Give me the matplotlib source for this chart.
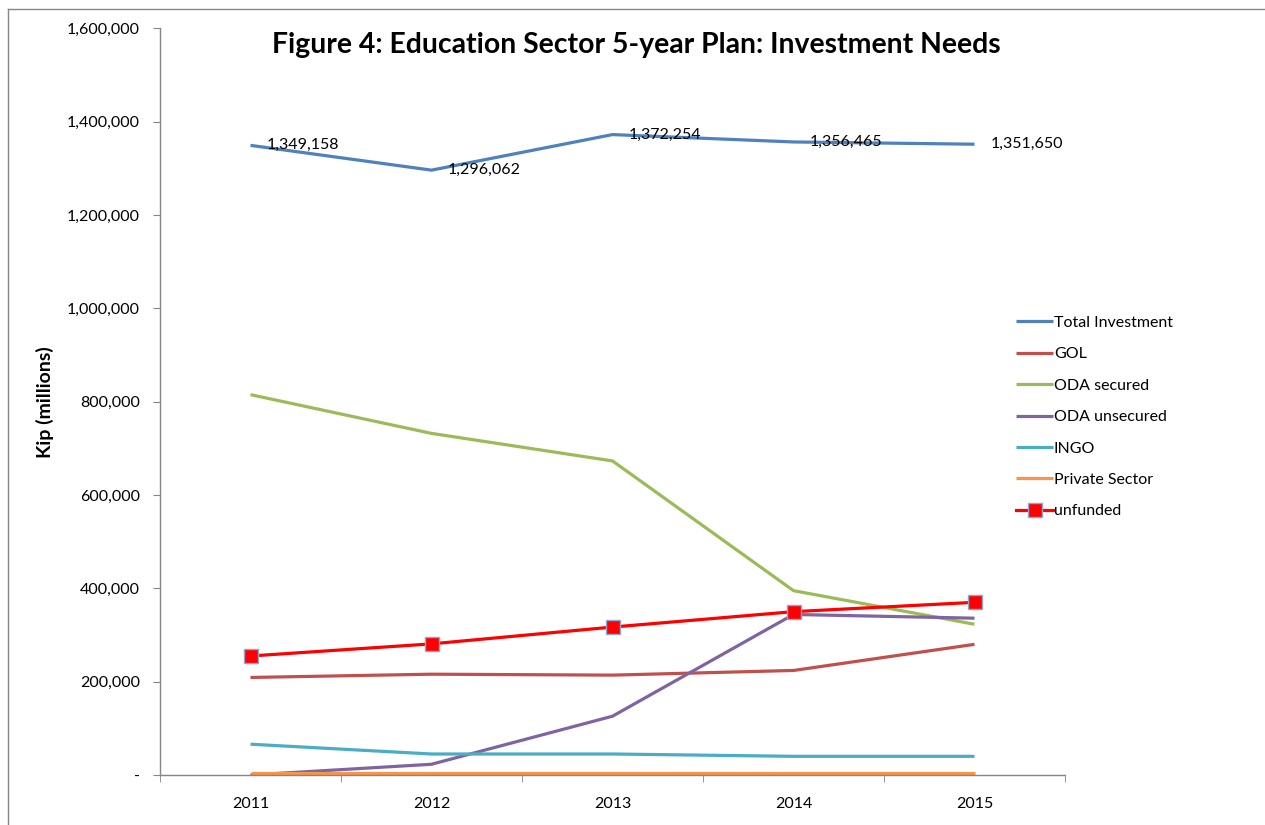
import matplotlib.pyplot as plt
from matplotlib.lines import Line2D
from matplotlib.ticker import FuncFormatter

plt.rcParams['font.family'] = ['Lato', 'DejaVu Sans']

# Investment needs, Kip (millions)
years = ['2011', '2012', '2013', '2014', '2015']
total_investment = [1349158, 1296062, 1372254, 1356465, 1351650]
gol = [209000, 216000, 214000, 224000, 280000]
oda_secured = [815000, 732000, 673000, 395000, 323000]
oda_unsecured = [0, 23000, 126000, 344000, 336000]
ingo = [66000, 45000, 45000, 40000, 40000]
private_sector = [4000, 4000, 4000, 4000, 4000]
unfunded = [255000, 281000, 317000, 350000, 370000]

series = [
    ('Total Investment', total_investment, '#4F81BD'),
    ('GOL', gol, '#C0504D'),
    ('ODA secured', oda_secured, '#9BBB59'),
    ('ODA unsecured', oda_unsecured, '#8064A2'),
    ('INGO', ingo, '#4BACC6'),
    ('Private Sector', private_sector, '#F79646'),
]

fig = plt.figure(figsize=(12.65, 8.25), dpi=100)
ax = fig.add_axes([160 / 1265, 1 - 775 / 825, 905 / 1265, (775 - 28.3) / 825])

x = list(range(len(years)))
for label, values, color in series:
    ax.plot(x, values, color=color, linewidth=2.3, label=label,
            solid_capstyle='butt')
ax.plot(x, unfunded, color='#FF0000', linewidth=2.3, marker='s',
        markersize=10, markerfacecolor='#FF0000', markeredgecolor='#8EA6D4',
        markeredgewidth=1.0, label='unfunded', zorder=5)

# Value labels on the total line
for xi, v in zip(x, total_investment):
    ax.annotate('{:,}'.format(v), (xi, v), xytext=(11.5, 0),
                textcoords='offset points', va='center', ha='left',
                fontsize=11.5, color='black')

ax.set_xlim(-0.5, len(years) - 0.5)
ax.set_ylim(0, 1600000)
ax.set_yticks(range(0, 1600001, 200000))
ax.yaxis.set_major_formatter(
    FuncFormatter(lambda v, p: '-' if v == 0 else '{:,.0f}'.format(v)))
ax.set_xticks(x)
ax.set_xticklabels(years)
ax.set_xticks([i - 0.5 for i in range(len(years) + 1)], minor=True)

for side in ['top', 'right']:
    ax.spines[side].set_visible(False)
for side in ['left', 'bottom']:
    ax.spines[side].set_color('#868686')
    ax.spines[side].set_linewidth(1.0)

ax.tick_params(axis='y', direction='out', length=5, color='#868686',
               labelsize=11.5, pad=9.5)
ax.tick_params(axis='x', which='major', length=0, labelsize=11.5, pad=16)
ax.tick_params(axis='x', which='minor', direction='out', length=5,
               color='#868686')

ax.set_ylabel('Kip (millions)', fontsize=14, fontweight='bold', labelpad=9)

fig.text(636 / 1265, 1 - 45 / 825,
         'Figure 4: Education Sector 5-year Plan: Investment Needs',
         ha='center', va='center', fontsize=20.4, fontweight='bold')

ax.legend(loc='center left', bbox_to_anchor=(1010 / 1265, 1 - 417 / 825),
          bbox_transform=fig.transFigure, frameon=False, fontsize=11.5,
          handlelength=2.3, handletextpad=0.05, labelspacing=1.08,
          borderaxespad=0)

# Chart area border
fig.add_artist(Line2D([8 / 1265, 8 / 1265], [0, 1 - 9 / 825],
                      transform=fig.transFigure, color='#868686', lw=1.0))
fig.add_artist(Line2D([8 / 1265, 1], [1 - 9 / 825, 1 - 9 / 825],
                      transform=fig.transFigure, color='#868686', lw=1.0))

fig.savefig('out.png', dpi=100)
